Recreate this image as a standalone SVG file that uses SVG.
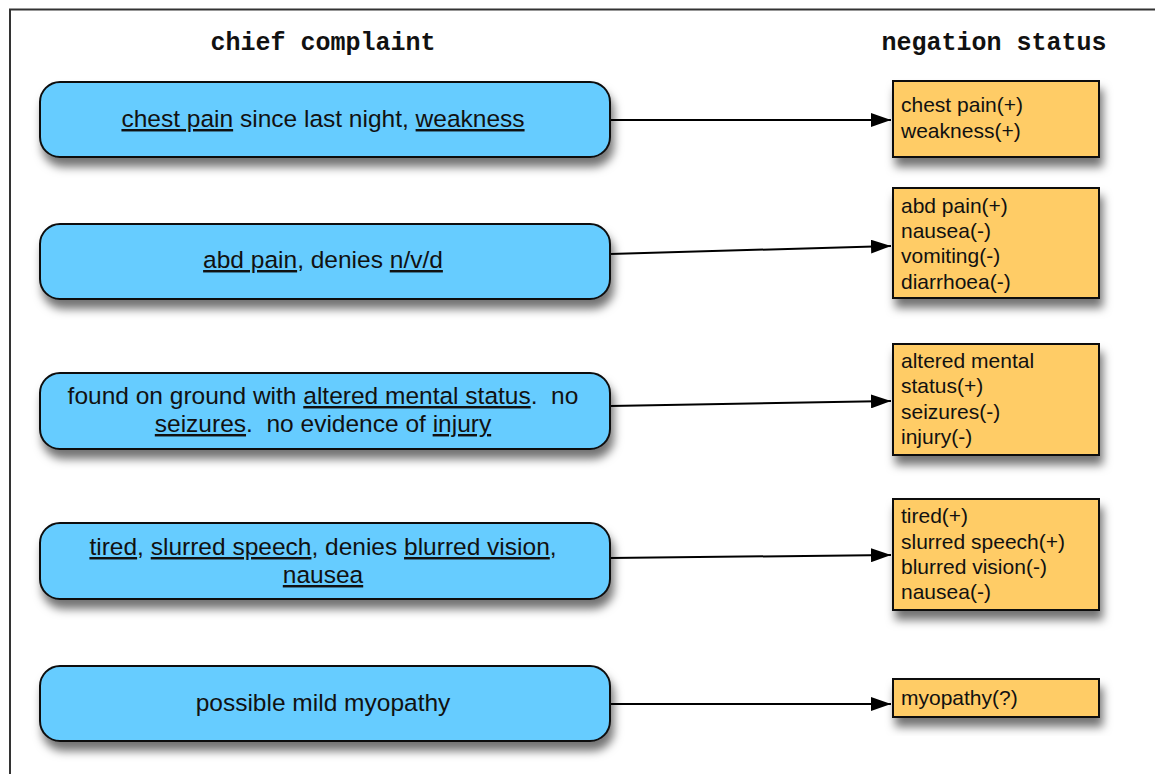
<svg xmlns="http://www.w3.org/2000/svg" width="1155" height="774" viewBox="0 0 1155 774">
<defs>
<filter id="sh" x="-10%" y="-20%" width="125%" height="170%">
<feDropShadow dx="3" dy="9" stdDeviation="5" flood-color="#000" flood-opacity="0.55"/>
</filter>
<marker id="ah" markerWidth="20" markerHeight="14" refX="20" refY="7" orient="auto" markerUnits="userSpaceOnUse">
<path d="M0,0 L20,7 L0,14 Z" fill="#000"/>
</marker>
</defs>
<style>
.cc{fill:#66ccff;stroke:#111;stroke-width:2}
.ns{fill:#ffcc66;stroke:#111;stroke-width:2}
.t{font-family:"Liberation Sans",Arial,sans-serif;font-size:24.5px;fill:#111;text-anchor:middle;white-space:pre}
.o{font-family:"Liberation Sans",Arial,sans-serif;font-size:21px;fill:#111}
.h{font-family:"Liberation Mono","Courier New",monospace;font-size:25px;font-weight:bold;fill:#111;text-anchor:middle}
.u{text-decoration:underline}
.c{stroke:#000;stroke-width:2;fill:none;marker-end:url(#ah)}
</style>
<rect x="0" y="0" width="1155" height="774" fill="#fff"/>
<path d="M10,774 V9.5 H1155" fill="none" stroke="#333" stroke-width="2"/>
<text class="h" x="323" y="50">chief complaint</text>
<text class="h" x="994" y="50">negation status</text>
<g id="connectors">
<line class="c" x1="610" y1="120" x2="891" y2="120"/>
<line class="c" x1="610" y1="254" x2="891" y2="246"/>
<line class="c" x1="610" y1="406" x2="891" y2="401"/>
<line class="c" x1="610" y1="558" x2="891" y2="555"/>
<line class="c" x1="610" y1="704" x2="891" y2="704"/>
</g>
<g id="cc1"><rect class="cc" filter="url(#sh)" x="40" y="82" width="570" height="75" rx="20"/>
<text class="t" x="323" y="127"><tspan class="u">chest pain</tspan> since last night, <tspan class="u">weakness</tspan></text></g>
<g id="cc2"><rect class="cc" filter="url(#sh)" x="40" y="224" width="570" height="75" rx="20"/>
<text class="t" x="323" y="268"><tspan class="u">abd pain</tspan>, denies <tspan class="u">n/v/d</tspan></text></g>
<g id="cc3"><rect class="cc" filter="url(#sh)" x="40" y="373" width="570" height="76" rx="20"/>
<text class="t" x="323" y="404">found on ground with <tspan class="u">altered mental status</tspan>.  no</text>
<text class="t" x="323" y="432"><tspan class="u">seizures</tspan>.  no evidence of <tspan class="u">injury</tspan></text></g>
<g id="cc4"><rect class="cc" filter="url(#sh)" x="40" y="523" width="570" height="76" rx="20"/>
<text class="t" x="323" y="555"><tspan class="u">tired</tspan>, <tspan class="u">slurred speech</tspan>, denies <tspan class="u">blurred vision</tspan>,</text>
<text class="t" x="323" y="583"><tspan class="u">nausea</tspan></text></g>
<g id="cc5"><rect class="cc" filter="url(#sh)" x="40" y="666" width="570" height="75" rx="20"/>
<text class="t" x="323" y="711">possible mild myopathy</text></g>
<g id="ns1"><rect class="ns" filter="url(#sh)" x="893" y="81" width="206" height="76"/>
<text class="o" x="901" y="112">chest pain(+)</text>
<text class="o" x="901" y="138">weakness(+)</text></g>
<g id="ns2"><rect class="ns" filter="url(#sh)" x="893" y="188" width="206" height="110"/>
<text class="o" x="901" y="213">abd pain(+)</text>
<text class="o" x="901" y="238">nausea(-)</text>
<text class="o" x="901" y="263">vomiting(-)</text>
<text class="o" x="901" y="289">diarrhoea(-)</text></g>
<g id="ns3"><rect class="ns" filter="url(#sh)" x="893" y="344" width="206" height="111"/>
<text class="o" x="901" y="368">altered mental</text>
<text class="o" x="901" y="393">status(+)</text>
<text class="o" x="901" y="419">seizures(-)</text>
<text class="o" x="901" y="444">injury(-)</text></g>
<g id="ns4"><rect class="ns" filter="url(#sh)" x="893" y="499" width="206" height="111"/>
<text class="o" x="901" y="523">tired(+)</text>
<text class="o" x="901" y="549">slurred speech(+)</text>
<text class="o" x="901" y="574">blurred vision(-)</text>
<text class="o" x="901" y="599">nausea(-)</text></g>
<g id="ns5"><rect class="ns" filter="url(#sh)" x="893" y="679" width="206" height="38"/>
<text class="o" x="901" y="705">myopathy(?)</text></g>
</svg>
